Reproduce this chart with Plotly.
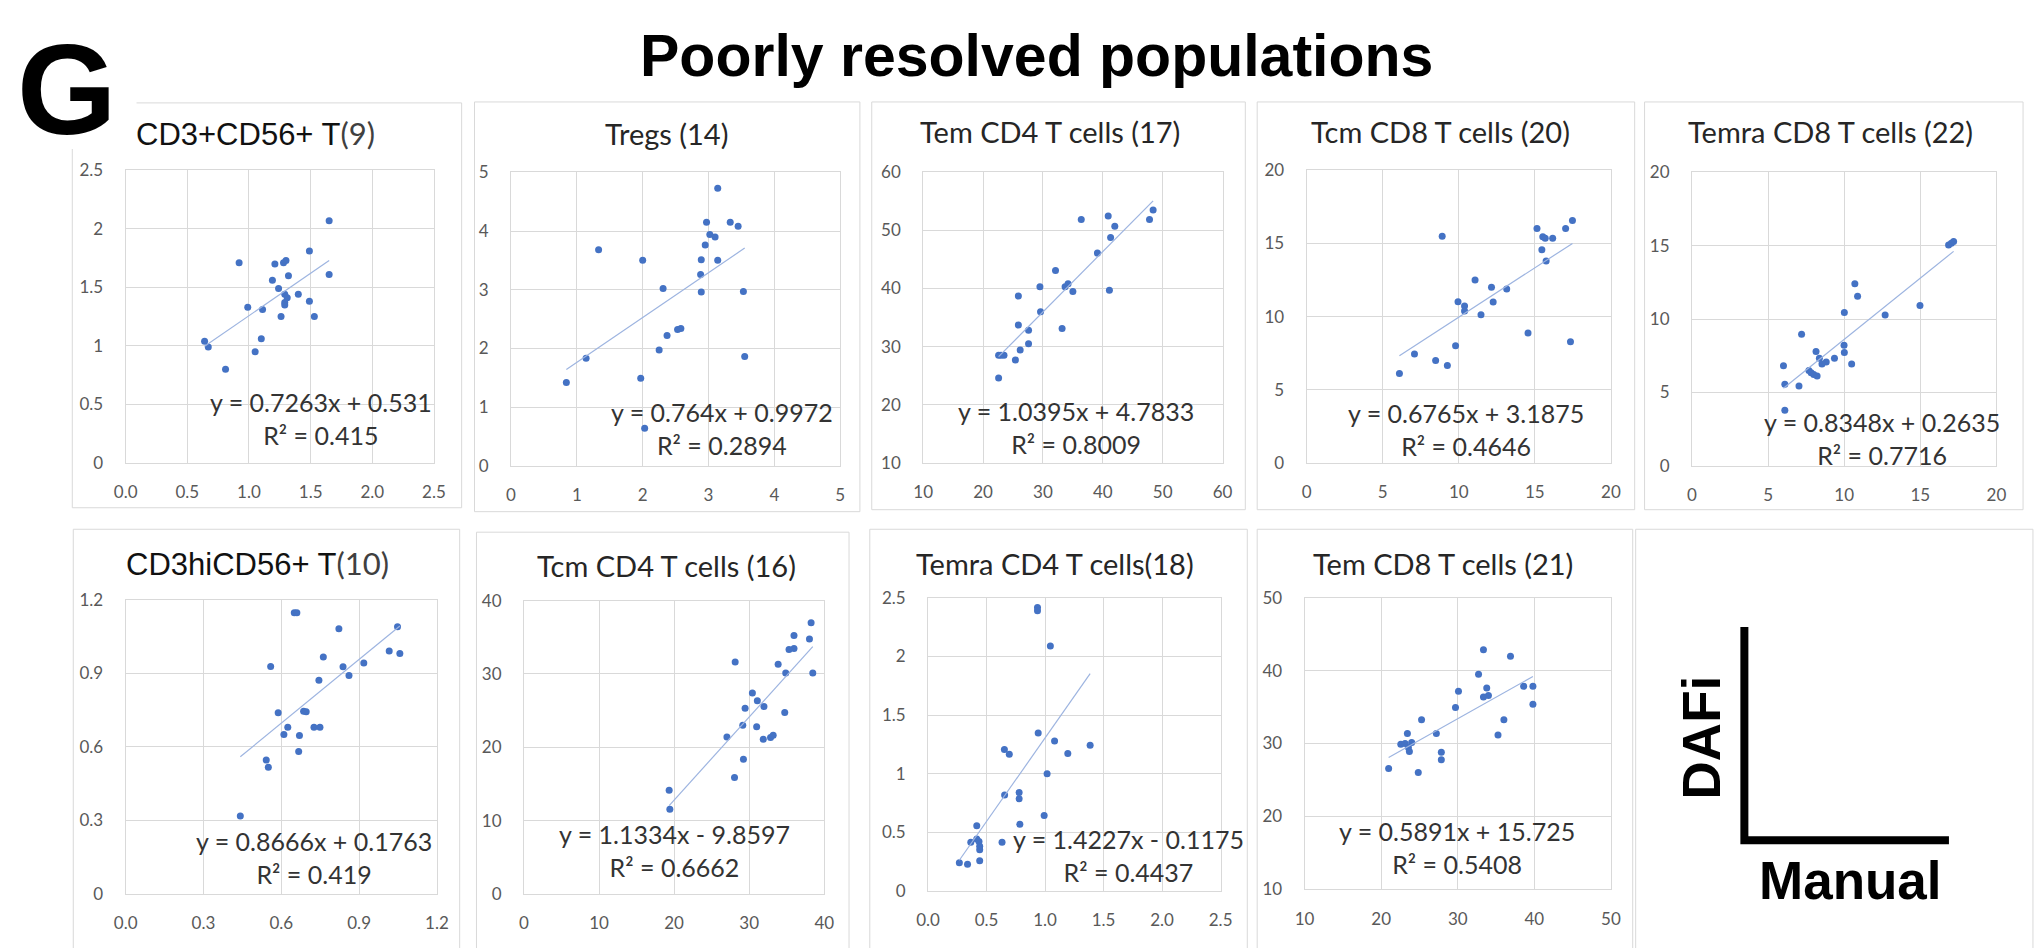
import plotly.graph_objects as go

W, H = 2040, 948

# ---------------- data: Manual (x) vs DAFi (y) ----------------
panel_titles = [
    "CD3+CD56+ T|(9)", "Tregs (14)", "Tem CD4 T cells (17)", "Tcm CD8 T cells (20)",
    "Temra CD8 T cells (22)", "CD3hiCD56+ T|(10)", "Tcm CD4 T cells (16)",
    "Temra CD4 T cells(18)", "Tem CD8 T cells (21)",
]

cd3cd56_manual = [1.65, 1.49, 0.92, 1.21, 1.28, 1.30, 1.65, 1.32, 1.19, 1.24, 1.29, 1.40, 1.31,
                  1.29, 1.49, 1.29, 0.99, 1.11, 1.26, 1.53, 1.10, 0.64, 0.67, 1.05, 0.81]
cd3cd56_dafi = [2.07, 1.81, 1.71, 1.70, 1.71, 1.73, 1.61, 1.60, 1.56, 1.49, 1.44, 1.44, 1.41,
                1.37, 1.38, 1.35, 1.33, 1.31, 1.25, 1.25, 1.06, 1.04, 0.99, 0.95, 0.80]

tregs_manual = [3.14, 2.97, 3.33, 3.45, 3.02, 3.10, 1.33, 2.95, 2.00, 2.89, 3.14, 2.88, 2.31,
                2.89, 3.53, 2.53, 2.58, 2.37, 2.25, 3.55, 1.14, 1.97, 0.84, 2.03]
tregs_dafi = [4.73, 4.15, 4.15, 4.08, 3.94, 3.90, 3.68, 3.76, 3.50, 3.51, 3.50, 3.26, 3.02,
              2.96, 2.97, 2.32, 2.34, 2.22, 1.97, 1.86, 1.83, 1.49, 1.42, 0.64]

tem_cd4_manual = [48.4, 47.8, 36.4, 40.9, 42.0, 41.3, 39.1, 32.1, 29.5, 33.7, 34.2, 35.0, 41.1,
                  25.9, 29.6, 25.9, 27.6, 33.2, 27.6, 26.2, 22.6, 23.0, 23.5, 25.4, 22.6]
tem_cd4_dafi = [53.5, 51.9, 51.9, 52.5, 50.7, 48.8, 46.1, 43.1, 40.3, 40.3, 40.8, 39.5, 39.7,
                38.7, 36.0, 33.7, 32.8, 33.1, 30.5, 29.4, 28.5, 28.5, 28.5, 27.7, 24.6]

tcm_cd8_manual = [17.47, 17.02, 15.14, 8.91, 15.52, 15.68, 16.17, 15.46, 15.74, 11.07, 12.15, 13.15,
                  9.95, 12.26, 10.38, 10.38, 11.46, 14.55, 17.34, 9.79, 7.09, 8.48, 9.25, 6.10]
tcm_cd8_dafi = [16.58, 16.02, 16.02, 15.49, 15.46, 15.35, 15.35, 14.57, 13.81, 12.51, 12.00, 11.89,
                11.02, 10.99, 10.73, 10.39, 10.12, 8.87, 8.27, 8.00, 7.44, 6.99, 6.66, 6.10]

temra_cd8_manual = [17.19, 17.04, 16.86, 10.70, 10.88, 14.98, 10.01, 12.69, 7.20, 9.99, 10.01, 8.15,
                    8.37, 9.36, 8.82, 8.54, 10.49, 6.01, 7.68, 7.83, 8.00, 8.22, 6.10, 7.03, 6.10]
temra_cd8_dafi = [15.29, 15.16, 15.04, 12.40, 11.56, 10.93, 10.44, 10.27, 8.96, 8.22, 7.71, 7.78,
                  7.33, 7.33, 7.07, 6.93, 6.93, 6.82, 6.49, 6.33, 6.22, 6.11, 5.56, 5.44, 3.78]

cd3hi_manual = [0.650, 0.660, 0.822, 1.048, 0.762, 1.016, 1.057, 0.918, 0.559, 0.838, 0.861, 0.745,
                0.588, 0.686, 0.696, 0.625, 0.726, 0.749, 0.610, 0.670, 0.667, 0.542, 0.550, 0.442]
cd3hi_dafi = [1.147, 1.147, 1.081, 1.090, 0.966, 0.991, 0.981, 0.942, 0.928, 0.926, 0.891, 0.871,
              0.739, 0.745, 0.743, 0.680, 0.680, 0.680, 0.650, 0.646, 0.581, 0.546, 0.517, 0.318]

tcm_cd4_manual = [38.24, 38.02, 35.96, 35.96, 35.30, 28.13, 33.85, 34.86, 38.46, 30.42, 31.08, 31.96,
                  29.45, 34.73, 29.14, 30.99, 27.03, 31.87, 32.84, 33.19, 29.23, 28.04, 19.34, 19.43]
tcm_cd4_dafi = [36.98, 34.76, 35.24, 33.47, 33.33, 31.64, 31.33, 30.13, 30.13, 27.42, 26.36, 25.56,
                25.33, 24.76, 23.02, 22.80, 21.42, 21.11, 21.33, 21.64, 18.36, 15.87, 14.13, 11.56]

temra_cd4_manual = [0.935, 0.935, 1.045, 0.941, 1.081, 1.385, 0.652, 0.694, 1.194, 1.017, 0.654, 0.778,
                    0.778, 0.992, 0.784, 0.416, 0.365, 0.416, 0.435, 0.441, 0.441, 0.632, 0.441, 0.267, 0.337]
temra_cd4_dafi = [2.417, 2.389, 2.089, 1.347, 1.278, 1.242, 1.206, 1.167, 1.172, 1.000, 0.819, 0.839,
                  0.786, 0.644, 0.569, 0.556, 0.417, 0.444, 0.422, 0.381, 0.353, 0.417, 0.258, 0.242, 0.228]

tem_cd8_manual = [33.35, 36.88, 32.71, 38.60, 39.81, 33.78, 30.09, 34.00, 33.35, 39.81, 29.70, 25.27,
                  36.02, 23.42, 27.20, 35.25, 22.56, 23.12, 23.98, 23.55, 23.68, 27.85, 27.85, 20.97, 24.84]
tem_cd8_dafi = [42.85, 41.96, 39.50, 37.84, 37.84, 37.62, 37.17, 36.59, 36.37, 35.39, 34.94, 33.24,
                33.24, 31.36, 31.36, 31.14, 29.89, 29.98, 30.11, 29.44, 28.90, 28.77, 27.74, 26.54, 26.00]

manual_values = [cd3cd56_manual, tregs_manual, tem_cd4_manual, tcm_cd8_manual, temra_cd8_manual,
                 cd3hi_manual, tcm_cd4_manual, temra_cd4_manual, tem_cd8_manual]
dafi_values = [cd3cd56_dafi, tregs_dafi, tem_cd4_dafi, tcm_cd8_dafi, temra_cd8_dafi,
               cd3hi_dafi, tcm_cd4_dafi, temra_cd4_dafi, tem_cd8_dafi]

# linear fits (slope, intercept, R squared)
fit_slopes = [0.7263, 0.764, 1.0395, 0.6765, 0.8348, 0.8666, 1.1334, 1.4227, 0.5891]
fit_intercepts = [0.531, 0.9972, 4.7833, 3.1875, 0.2635, 0.1763, -9.8597, -0.1175, 15.725]
fit_r2 = [0.415, 0.2894, 0.8009, 0.4646, 0.7716, 0.419, 0.6662, 0.4437, 0.5408]

# axis ticks
x_ticks = [
    [0, 0.5, 1, 1.5, 2, 2.5], [0, 1, 2, 3, 4, 5], [10, 20, 30, 40, 50, 60], [0, 5, 10, 15, 20],
    [0, 5, 10, 15, 20], [0, 0.3, 0.6, 0.9, 1.2], [0, 10, 20, 30, 40], [0, 0.5, 1, 1.5, 2, 2.5],
    [10, 20, 30, 40, 50],
]
x_tick_labels = [
    ["0.0", "0.5", "1.0", "1.5", "2.0", "2.5"], ["0", "1", "2", "3", "4", "5"],
    ["10", "20", "30", "40", "50", "60"], ["0", "5", "10", "15", "20"], ["0", "5", "10", "15", "20"],
    ["0.0", "0.3", "0.6", "0.9", "1.2"], ["0", "10", "20", "30", "40"],
    ["0.0", "0.5", "1.0", "1.5", "2.0", "2.5"], ["10", "20", "30", "40", "50"],
]
y_ticks = x_ticks
y_tick_labels = [
    ["0", "0.5", "1", "1.5", "2", "2.5"], ["0", "1", "2", "3", "4", "5"],
    ["10", "20", "30", "40", "50", "60"], ["0", "5", "10", "15", "20"], ["0", "5", "10", "15", "20"],
    ["0", "0.3", "0.6", "0.9", "1.2"], ["0", "10", "20", "30", "40"],
    ["0", "0.5", "1", "1.5", "2", "2.5"], ["10", "20", "30", "40", "50"],
]

# ---------------- layout geometry (pixels) ----------------
plot_boxes = [  # left, top, right, bottom of each plotting area
    (115, 163, 427, 462), (505, 165, 838, 465), (922, 165, 1225, 462), (1310, 163, 1618, 462),
    (1700, 165, 2008, 465), (115, 602, 430, 903), (518, 603, 822, 903), (927, 600, 1223, 900),
    (1308, 600, 1618, 898),
]
frame_boxes = [
    (61, 94, 455, 508), (468, 93, 858, 512), (870, 93, 1248, 510), (1260, 93, 1642, 510),
    (1652, 93, 2035, 510), (62, 530, 453, 960), (470, 533, 847, 960), (868, 530, 1250, 960),
    (1260, 530, 1640, 960), (1643, 530, 2045, 960),
]
title_pos = [(246, 125), (662, 125), (1050, 123), (1445, 123), (1840, 123),
             (248, 565), (662, 567), (1055, 565), (1448, 565)]
label_pos = [(1.58, 0.38), (3.2, 0.63), (35.5, 16.0), (10.49, 2.3), (12.5, 1.85),
             (0.726, 0.15), (20.0, 5.9), (1.71, 0.30), (29.85, 15.7)]

MARKER = "#4472C4"
TREND = "#9DB4E0"
GRID = "#D9D9D9"
TICK = "#595959"
BODY_FONT = "Lato"


def px(x):
    return x / W


def py(y):
    return 1 - y / H


def num(v):
    return repr(abs(v))


fig = go.Figure()
annotations = []
shapes = []

for b in frame_boxes:
    shapes.append(dict(type="rect", xref="paper", yref="paper", layer="below",
                       x0=px(b[0]), x1=px(b[2]), y0=py(b[3]), y1=py(b[1]),
                       line=dict(color=GRID, width=1), fillcolor="rgba(0,0,0,0)"))
# clear the frame corner behind the panel letter
shapes.append(dict(type="rect", xref="paper", yref="paper", layer="below",
                   x0=px(18), x1=px(126), y0=py(141), y1=py(38),
                   line=dict(width=0), fillcolor="white"))

for i in range(9):
    k = "" if i == 0 else str(i + 1)
    xs, ys = manual_values[i], dafi_values[i]
    fig.add_trace(go.Scatter(x=xs, y=ys, mode="markers", xaxis="x" + k, yaxis="y" + k,
                             marker=dict(size=7, color=MARKER, line=dict(width=0)),
                             hoverinfo="x+y"))
    lo, hi = min(xs), max(xs)
    m, c = fit_slopes[i], fit_intercepts[i]
    fig.add_trace(go.Scatter(x=[lo, hi], y=[m * lo + c, m * hi + c], mode="lines",
                             xaxis="x" + k, yaxis="y" + k,
                             line=dict(color=TREND, width=1.2), hoverinfo="skip"))

    l, t, r, b = plot_boxes[i]
    tick_font = dict(family=BODY_FONT, size=17, color=TICK)
    fig.update_layout(**{
        "xaxis" + k: dict(domain=[px(l), px(r)], anchor="y" + k,
                          range=[x_ticks[i][0], x_ticks[i][-1]],
                          tickmode="array", tickvals=x_ticks[i], ticktext=x_tick_labels[i],
                          showgrid=True, gridcolor=GRID, gridwidth=1, zeroline=False,
                          showline=True, linecolor=GRID, mirror=True, ticks="",
                          tickfont=tick_font, ticklabelstandoff=14, fixedrange=True),
        "yaxis" + k: dict(domain=[py(b), py(t)], anchor="x" + k,
                          range=[y_ticks[i][0], y_ticks[i][-1]],
                          tickmode="array", tickvals=y_ticks[i], ticktext=y_tick_labels[i],
                          showgrid=True, gridcolor=GRID, gridwidth=1, zeroline=False,
                          showline=True, linecolor=GRID, mirror=True, ticks="",
                          tickfont=tick_font, ticklabelstandoff=18, fixedrange=True),
    })

    # panel title
    title = panel_titles[i]
    if "|" in title:
        head, tail = title.split("|")
        text = (f"<span style='font-family:Liberation Sans'>{head}</span>"
                f"<span style='font-family:{BODY_FONT};color:#404040'>{tail}</span>")
        tfont = dict(family="Liberation Sans", size=31, color="#111111")
    else:
        text = title
        tfont = dict(family=BODY_FONT, size=29, color="#262626")
    annotations.append(dict(text=text, xref="paper", yref="paper", showarrow=False,
                            x=px(title_pos[i][0]), y=py(title_pos[i][1]),
                            xanchor="center", yanchor="middle", font=tfont))

    # regression equation
    sign = "+" if c >= 0 else "-"
    eq = f"y = {num(m)}x {sign} {num(c)}<br>R² = {num(fit_r2[i])}"
    annotations.append(dict(text=eq, xref="x" + k, yref="y" + k, showarrow=False,
                            x=label_pos[i][0], y=label_pos[i][1], xanchor="center",
                            yanchor="middle", align="center",
                            font=dict(family=BODY_FONT, size=25, color="#333333")))

# figure heading and panel letter
annotations.append(dict(text="<b>Poorly resolved populations</b>", xref="paper", yref="paper",
                        x=px(1037), y=py(46), xanchor="center", yanchor="middle",
                        showarrow=False,
                        font=dict(family="Liberation Sans", size=59, color="#000000")))
annotations.append(dict(text="<b>G</b>", xref="paper", yref="paper", x=px(56), y=py(80),
                        xanchor="center", yanchor="middle", showarrow=False,
                        font=dict(family="Liberation Sans", size=128, color="#000000")))

# axis key: DAFi (vertical) vs Manual (horizontal)
shapes.append(dict(type="path", xref="paper", yref="paper",
                   path=f"M {px(1753)} {py(630)} L {px(1753)} {py(848)} L {px(1960)} {py(848)}",
                   line=dict(color="#000000", width=8)))
annotations.append(dict(text="<b>DAFi</b>", xref="paper", yref="paper", x=px(1710), y=py(743),
                        textangle=-90, xanchor="center", yanchor="middle", showarrow=False,
                        font=dict(family="Liberation Sans", size=53, color="#000000")))
annotations.append(dict(text="<b>Manual</b>", xref="paper", yref="paper", x=px(1860), y=py(889),
                        xanchor="center", yanchor="middle", showarrow=False,
                        font=dict(family="Liberation Sans", size=53, color="#000000")))

fig.update_layout(width=W, height=H, margin=dict(l=0, r=0, t=0, b=0),
                  paper_bgcolor="white", plot_bgcolor="white", showlegend=False,
                  annotations=annotations, shapes=shapes)

fig.write_html("out.html", config={"displayModeBar": False})
